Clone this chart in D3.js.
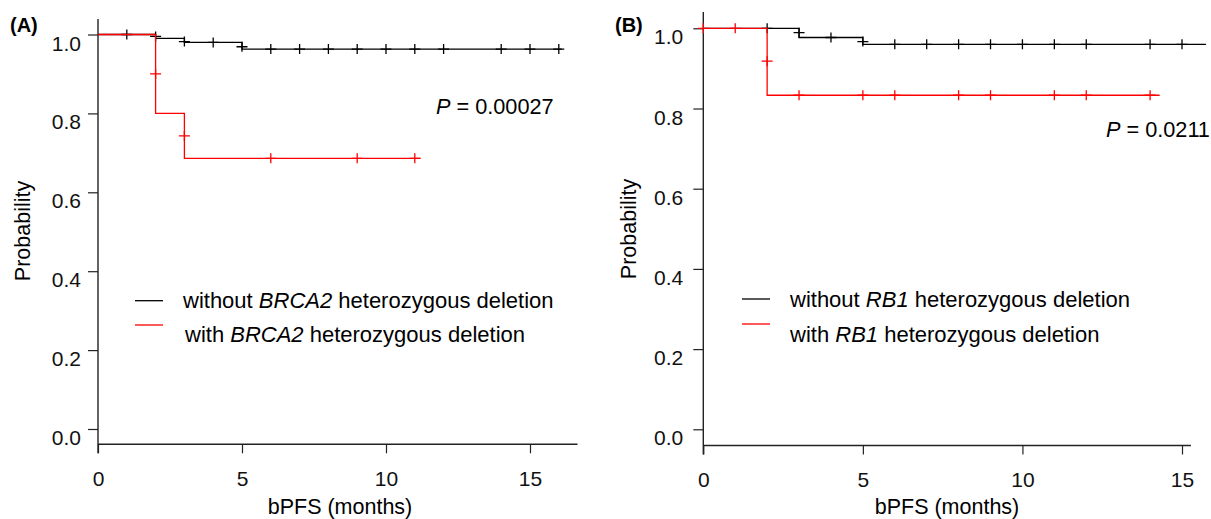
<!DOCTYPE html>
<html>
<head>
<meta charset="utf-8">
<script src="https://cdn.jsdelivr.net/npm/d3@7"></script>
<style>
  body { margin: 0; background: #fff; }
  svg { display: block; font-family: "Liberation Sans", Arial, sans-serif; }
</style>
</head>
<body>
<svg id="chart" width="1211" height="519"></svg>
<script>
// ---- data ----
var yTicks = [0, 0.2, 0.4, 0.6, 0.8, 1.0];
var xTicks = [0, 5, 10, 15];

// panel A, without BRCA2 deletion
var aBlackT = [0, 2, 3, 5];
var aBlackS = [1.0, 0.990, 0.980, 0.963];
var aBlackEnd = 16.1;
var aBlackCensT = [1, 2, 3, 4, 5, 6, 7, 8, 9, 10, 11, 12, 14, 15, 16];
var aBlackCensS = [1.0, 0.995, 0.982, 0.980, 0.969, 0.963, 0.963, 0.963, 0.963, 0.963, 0.963, 0.963, 0.963, 0.963, 0.963];
// panel A, with BRCA2 deletion
var aRedT = [0, 2, 3];
var aRedS = [1.0, 0.8, 0.686];
var aRedEnd = 11.2;
var aRedCensT = [2, 3, 6, 9, 11];
var aRedCensS = [0.9, 0.743, 0.686, 0.686, 0.686];

// panel B, without RB1 deletion
var bBlackT = [0, 3, 5];
var bBlackS = [1.0, 0.977, 0.960];
var bBlackEnd = 15.75;
var bBlackCensT = [2, 3, 4, 5, 6, 7, 8, 9, 10, 11, 12, 14, 15];
var bBlackCensS = [1.0, 0.989, 0.977, 0.967, 0.960, 0.960, 0.960, 0.960, 0.960, 0.960, 0.960, 0.960, 0.960];
// panel B, with RB1 deletion
var bRedT = [0, 2];
var bRedS = [1.0, 0.833];
var bRedEnd = 14.3;
var bRedCensT = [0, 1, 2, 3, 5, 6, 8, 9, 11, 12, 14];
var bRedCensS = [1.0, 1.0, 0.918, 0.833, 0.833, 0.833, 0.833, 0.833, 0.833, 0.833, 0.833];

var svg = d3.select("#chart");

function drawPanel(p) {
  var x = d3.scaleLinear().domain([0, 15]).range([p.x0, p.x15]);
  var y = d3.scaleLinear().domain([0, 1]).range([p.y0, p.y1]);
  var g = svg.append("g");

  // axis lines
  g.append("line").attr("x1", p.x0).attr("x2", p.x0)
    .attr("y1", p.axTop).attr("y2", p.xAxisY + 9)
    .attr("stroke", "#222").attr("stroke-width", 1.4);
  g.append("line").attr("x1", p.x0).attr("x2", x(p.xMax))
    .attr("y1", p.xAxisY).attr("y2", p.xAxisY)
    .attr("stroke", "#222").attr("stroke-width", 1.4);

  var ya = g.append("g").attr("transform", "translate(" + p.x0 + ",0)")
    .call(d3.axisLeft(y).tickValues(yTicks).tickFormat(d3.format(".1f"))
      .tickSize(10).tickPadding(p.yPad));
  ya.select(".domain").remove();
  ya.selectAll("text").attr("dy", "0.74em").style("font-size", "21px").attr("fill", "#111");
  ya.selectAll("line").attr("stroke", "#222").attr("stroke-width", 1.2);

  var xa = g.append("g").attr("transform", "translate(0," + p.xAxisY + ")")
    .call(d3.axisBottom(x).tickValues(xTicks).tickSize(9).tickPadding(18));
  xa.select(".domain").remove();
  xa.selectAll("text").style("font-size", "21px").attr("fill", "#111");
  xa.selectAll("line").attr("stroke", "#222").attr("stroke-width", 1.2);

  // titles
  g.append("text").attr("x", p.labX).attr("y", 32).text(p.label)
    .style("font-size", "20px").style("font-weight", "bold");
  g.append("text").attr("transform", "translate(" + p.yTitleX + "," + p.yTitleY + ") rotate(-90)")
    .attr("text-anchor", "middle").style("font-size", "21.5px").text("Probability");
  g.append("text").attr("x", p.xTitleX).attr("y", 514).attr("text-anchor", "middle")
    .style("font-size", "21.5px").text("bPFS (months)");

  // P value
  var pt = g.append("text").attr("x", p.pX).attr("y", p.pY).style("font-size", "21.7px");
  pt.append("tspan").style("font-style", "italic").text("P");
  pt.append("tspan").text(" = " + p.pVal);

  // curves
  var line = d3.line().x(function(d) { return x(d[0]); }).y(function(d) { return y(d[1]); })
    .curve(d3.curveStepAfter);
  p.series.forEach(function(s) {
    var pts = s.t.map(function(t, i) { return [t, s.s[i]]; });
    pts.push([s.end, s.s[s.s.length - 1]]);
    g.append("path").datum(pts).attr("d", line)
      .attr("fill", "none").attr("stroke", s.color).attr("stroke-width", 1.3);
    var cens = s.ct.map(function(t, i) { return [t, s.cs[i]]; });
    g.selectAll(null).data(cens).enter().append("path")
      .attr("d", function(d) {
        var cx = x(d[0]), cy = y(d[1]);
        return "M" + (cx - 5.5) + "," + cy + "H" + (cx + 5.5) + "M" + cx + "," + (cy - 5) + "V" + (cy + 5);
      })
      .attr("stroke", s.color).attr("stroke-width", 1.3).attr("fill", "none");
  });

  // legend
  p.series.forEach(function(s, i) {
    var ly = p.legY[i];
    g.append("line").attr("x1", p.legX1).attr("x2", p.legX2).attr("y1", ly).attr("y2", ly)
      .attr("stroke", s.color).attr("stroke-width", 1.3);
    var t = g.append("text").attr("x", p.legTX[i]).attr("y", p.legTY[i]).style("font-size", "22px");
    t.append("tspan").text(s.name[0]);
    t.append("tspan").style("font-style", "italic").text(p.gene);
    t.append("tspan").text(s.name[1]);
  });
}

drawPanel({
  label: "(A)", labX: 10, gene: "BRCA2", pVal: "0.00027", pX: 436, pY: 113.5,
  x0: 98, x15: 530, y0: 429, y1: 34.5, axTop: 19, xAxisY: 444.3, xMax: 16.65, yPad: 7,
  yTitleX: 30, yTitleY: 231, xTitleX: 340,
  legX1: 135, legX2: 163, legY: [300.7, 325], legTX: [183, 185], legTY: [307.5, 342],
  series: [
    { t: aBlackT, s: aBlackS, end: aBlackEnd, ct: aBlackCensT, cs: aBlackCensS, color: "#000", name: ["without ", " heterozygous deletion"] },
    { t: aRedT, s: aRedS, end: aRedEnd, ct: aRedCensT, cs: aRedCensS, color: "#ff0000", name: ["with ", " heterozygous deletion"] }
  ]
});

drawPanel({
  label: "(B)", labX: 615, gene: "RB1", pVal: "0.0211", pX: 1106, pY: 136.7,
  x0: 703.3, x15: 1182, y0: 429.3, y1: 28.3, axTop: 12, xAxisY: 445.5, xMax: 15.28, yPad: 10,
  yTitleX: 636, yTitleY: 229, xTitleX: 947,
  legX1: 742, legX2: 770, legY: [299, 324], legTX: [790, 790], legTY: [307, 341.5],
  series: [
    { t: bBlackT, s: bBlackS, end: bBlackEnd, ct: bBlackCensT, cs: bBlackCensS, color: "#000", name: ["without ", " heterozygous deletion"] },
    { t: bRedT, s: bRedS, end: bRedEnd, ct: bRedCensT, cs: bRedCensS, color: "#ff0000", name: ["with ", " heterozygous deletion"] }
  ]
});
</script>
</body>
</html>
